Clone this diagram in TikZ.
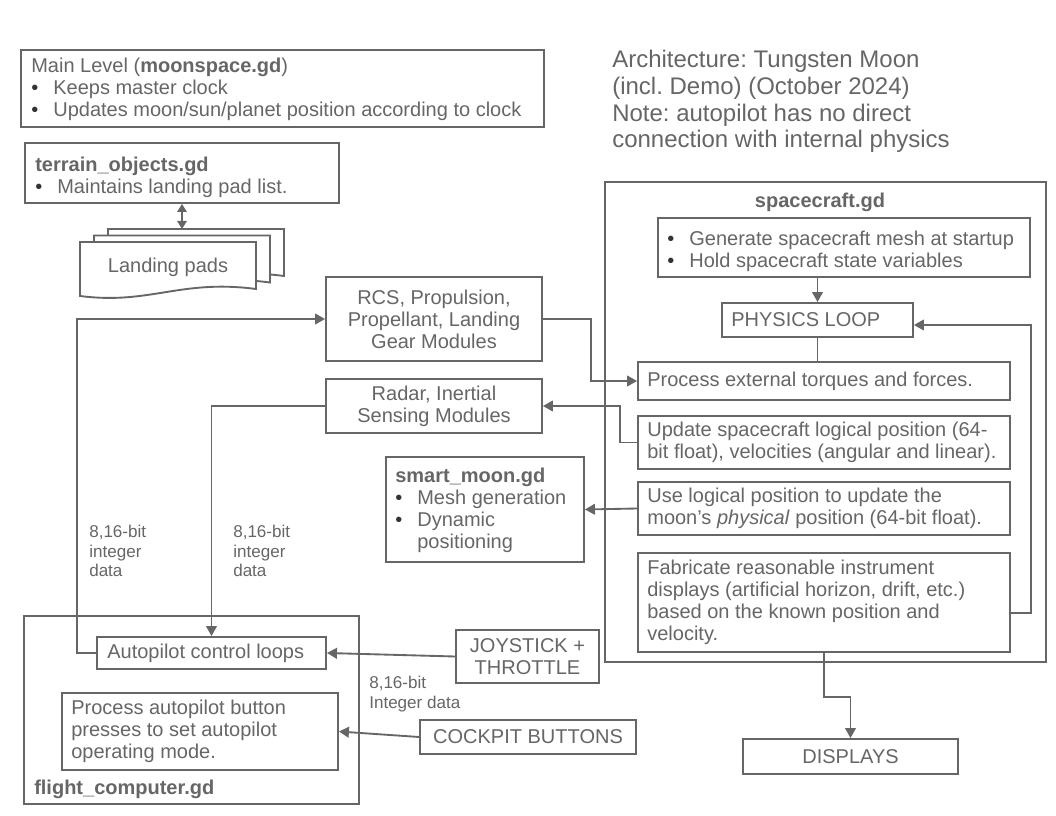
\documentclass[tikz,border=0pt]{standalone}
\usepackage{fontspec}
\setmainfont{Liberation Sans}
\usetikzlibrary{arrows.meta,calc}
\definecolor{linec}{HTML}{666666}
\definecolor{textc}{HTML}{666666}
\definecolor{bulc}{HTML}{333333}
\newcommand{\mfont}{\fontsize{15pt}{16.5pt}\selectfont}
\newcommand{\lfont}{\fontsize{12.8pt}{14.6pt}\selectfont}
\newcommand{\bul}{\makebox[16.5pt][l]{\textcolor{bulc}{•}}}
\frenchspacing
\begin{document}
\begin{tikzpicture}[x=0.75pt,y=-0.75pt,
  box/.style={draw=linec, line width=1.4pt, fill=white, inner sep=0pt},
  sz/.style 2 args={minimum width=#1*0.75pt, minimum height=#2*0.75pt},
  ctext/.style={text=textc, font=\mfont, align=center},
  txt/.style={anchor=west, inner sep=0pt, text=textc, font=\mfont, align=left},
  conn/.style={draw=linec, line width=1.4pt},
  arr/.style={conn, -{Triangle[length=7.5pt,width=8pt]}},
  dblarr/.style={conn, {Triangle[length=6pt,width=7pt]}-{Triangle[length=6pt,width=7pt]}},
]
\useasboundingbox (0,0) rectangle (1056,816);

% outer containers
\node[box, sz={441}{480}] (sc) at (825.5,422) {};
\node[font=\mfont\bfseries, text=textc, inner sep=0pt] (sclbl) at (820,202) {spacecraft.gd};
\node[box, sz={335}{188}] (fc) at (191.5,710) {};
\node[txt, font=\mfont\bfseries] (fclbl) at (34,789) {flight\_computer.gd};

% main level
\node[box, sz={523}{77}] (main) at (282.5,88.5) {};
\node[txt] (maint) at ($(main.west)+(11,1)$) {Main Level (\textbf{moonspace.gd})\\ \bul Keeps master clock\\ \bul Updates moon/sun/planet position according to clock};

% title
\node[txt, font=\fontsize{18pt}{20pt}\selectfont] (title) at (612,101.7) {Architecture: Tungsten Moon\\(incl. Demo) (October 2024)\\Note: autopilot has no direct\\connection with internal physics};

% terrain
\node[box, sz={314}{60}] (terrain) at (182,173) {};
\node[txt] (terraint) at ($(terrain.west)+(11,4)$) {\textbf{terrain\_objects.gd}\\ \bul Maintains landing pad list.};

% landing pads
\path[conn, fill=white] (108,229) -- (284,229) -- (284,276) .. controls (208,266) and (178,292) .. (108,283) -- cycle;
\path[conn, fill=white] (94,235.5) -- (270,235.5) -- (270,282.5) .. controls (194,272.5) and (164,298.5) .. (94,289.5) -- cycle;
\path[conn, fill=white] (80,242) -- (256,242) -- (256,289) .. controls (180,279) and (150,305) .. (80,296) -- cycle;
\node[ctext] (padst) at (168,267) {Landing pads};
\coordinate (padstop) at (183,229);

% modules
\node[box, ctext, sz={216}{84}] (rcs) at (434,319) {RCS, Propulsion,\\Propellant, Landing\\Gear Modules};
\node[box, ctext, sz={216}{54}] (radar) at (434,406) {Radar, Inertial\\Sensing Modules};

% smart moon
\node[box, sz={198}{105}] (smart) at (485,509.5) {};
\node[txt] (smartt) at ($(smart.west)+(10,1)$) {\textbf{smart\_moon.gd}\\ \bul Mesh generation\\ \bul Dynamic\\ \hspace*{16.5pt}positioning};

% spacecraft inner
\node[box, sz={372}{59}] (gen) at (844,247.5) {};
\node[txt] (gent) at ($(gen.west)+(10,4)$) {\bul Generate spacecraft mesh at startup\\ \bul Hold spacecraft state variables};
\node[box, sz={191}{34}] (phys) at (817.5,320) {};
\node[txt] (physt) at ($(phys.west)+(10,0)$) {PHYSICS LOOP};
\node[box, sz={372}{38}] (proc) at (824,381) {};
\node[txt] (proct) at ($(proc.west)+(10,0)$) {Process external torques and forces.};
\node[box, sz={372}{53}] (upd) at (824,442.5) {};
\node[txt] (updt) at ($(upd.west)+(10,0)$) {Update spacecraft logical position (64-\\bit float), velocities (angular and linear).};
\node[box, sz={372}{53}] (uselog) at (824,508.5) {};
\node[txt] (uselogt) at ($(uselog.west)+(10,0)$) {Use logical position to update the\\moon’s \textit{physical} position (64-bit float).};
\node[box, sz={372}{99}] (fab) at (824,602.5) {};
\node[txt] (fabt) at ($(fab.west)+(10,0)$) {Fabricate reasonable instrument\\displays (artificial horizon, drift, etc.)\\based on the known position and\\velocity.};

% flight computer inner
\node[box, sz={229}{32}] (auto) at (211.5,653) {};
\node[txt] (autot) at ($(auto.west)+(11,0)$) {Autopilot control loops};
\node[box, sz={276}{77}] (pauto) at (200,731.5) {};
\node[txt] (pautot) at ($(pauto.west)+(10,0)$) {Process autopilot button\\presses to set autopilot\\operating mode.};

% inputs / outputs
\node[box, ctext, sz={143}{53}] (joy) at (527.5,656.5) {JOYSTICK +\\THROTTLE};
\node[box, ctext, sz={216}{34}] (cock) at (528,737) {COCKPIT BUTTONS};
\node[box, ctext, sz={215}{35}] (disp) at (850.5,756.5) {DISPLAYS};

% labels
\node[txt, font=\lfont] (lbl1) at (89,551) {8,16-bit\\integer\\data};
\node[txt, font=\lfont] (lbl2) at (233,551) {8,16-bit\\integer\\data};
\node[txt, font=\lfont] (lbl3) at (369,694) {8,16-bit\\Integer data};

% connectors
\draw[dblarr] (terrain.south) -- (terrain.south |- padstop);
\draw[arr] (auto.west) -- ++(-19,0) |- (rcs.west);
\draw[arr] (rcs.east) -- ++(48,0) |- (proc.west);
\draw[arr] (upd.west) -- ++(-17,0) |- (radar.east);
\draw[arr] (radar.west) -| (auto.north);
\draw[arr] (uselog.west) -- (smart.east);
\draw[arr] (joy.west) -- (auto.east);
\draw[arr] (cock.west) -- (pauto.east);
\draw[arr] (gen.south -| phys.north) -- (phys.north);
\draw[conn] (phys.south) -- (phys.south |- proc.north);
\draw[arr] ($(fab.east)+(0,10.5)$) -- ++(20,0) |- ($(phys.east)+(0,5)$);
\draw[arr] (fab.south) -- ++(0,44) -| (disp.north);
\end{tikzpicture}
\end{document}
